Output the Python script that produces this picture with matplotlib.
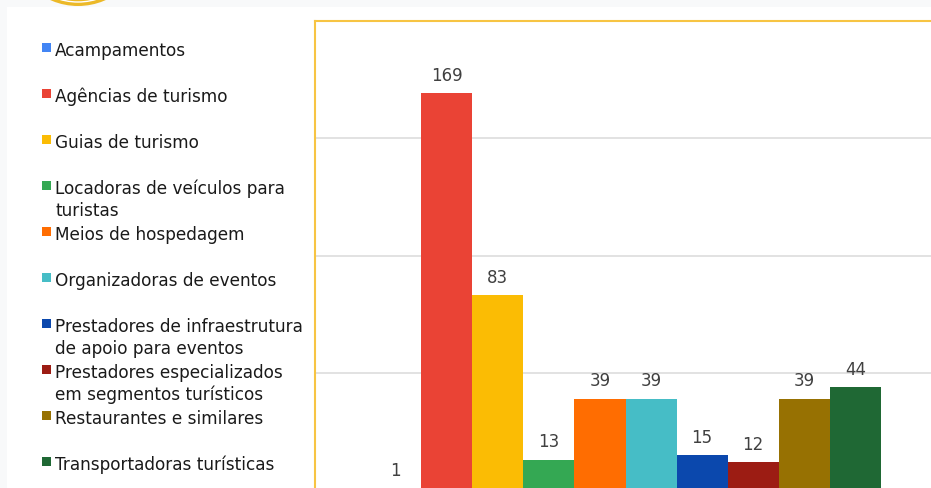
import matplotlib.pyplot as plt
from matplotlib.patches import Circle, Rectangle

categories = [
    "Acampamentos",
    "Agências de turismo",
    "Guias de turismo",
    "Locadoras de veículos para\nturistas",
    "Meios de hospedagem",
    "Organizadoras de eventos",
    "Prestadores de infraestrutura\nde apoio para eventos",
    "Prestadores especializados\nem segmentos turísticos",
    "Restaurantes e similares",
    "Transportadoras turísticas",
]
values = [1, 169, 83, 13, 39, 39, 15, 12, 39, 44]
colors = ["#4285f4", "#ea4335", "#fbbc04", "#34a853", "#ff6d01",
          "#46bdc6", "#0b48ad", "#9c1c13", "#977102", "#1f6834"]

W, H = 931, 489
plt.rcParams["font.family"] = ["DejaVu Sans"]


def fx(x):
    return x / W


def fy(y):
    # y measured from the top in pixels
    return 1 - y / H


fig = plt.figure(figsize=(W / 100, H / 100), dpi=100, facecolor="white")

# page background strips and the cut-off logo at the top
fig.patches.append(Rectangle((0, fy(8)), 1, 8 / H, transform=fig.transFigure,
                             facecolor="#f8f9fa", edgecolor="none", zorder=-3))
fig.patches.append(Rectangle((0, 0), fx(7), 1, transform=fig.transFigure,
                             facecolor="#f8f9fa", edgecolor="none", zorder=-3))
fig.patches.append(Circle((78, H + 61), 68, transform=None, facecolor="#ecb928",
                          edgecolor="none", zorder=-2))
fig.patches.append(Circle((78, H + 61), 64, transform=None, facecolor="none",
                          edgecolor="white", linewidth=1.0, zorder=-2))
fig.patches.append(Rectangle((fx(7), 0), 1, fy(8), transform=fig.transFigure,
                             facecolor="white", edgecolor="none", zorder=-1))

# plot area
left_px, top_px, bottom_px = 314.5, 21.5, 491.5
unit = 51.1
pad = (370 - left_px) / unit
n = len(values)
width_px = (n + 2 * pad) * unit
ax = fig.add_axes([fx(left_px), fy(bottom_px), width_px / W, (bottom_px - top_px) / H])
ax.set_facecolor("white")

x = list(range(n))
ax.bar(x, values, width=1.0, color=colors, zorder=2)
for xi, v in zip(x, values):
    ax.annotate(str(v), (xi, v), xytext=(0, 9.7), textcoords="offset points",
                ha="center", va="baseline", fontsize=12, color="#404040")

ax.set_xlim(-0.5 - pad, n - 0.5 + pad)
ax.set_ylim(0, 200)
ax.set_yticks([50, 100, 150])
ax.grid(axis="y", color="#dadada", linewidth=1.1, zorder=0)
ax.tick_params(left=False, bottom=False, labelleft=False, labelbottom=False)
ax.set_xticks([])
for spine in ax.spines.values():
    spine.set_color("#f7c443")
    spine.set_linewidth(1.5)

# legend drawn by hand, Google Charts style
for i, (label, color) in enumerate(zip(categories, colors)):
    base = 56 + 46 * i
    fig.patches.append(Rectangle((fx(42), fy(base - 3)), 9 / W, 9 / H,
                                 transform=fig.transFigure, facecolor=color,
                                 edgecolor="none"))
    for j, line in enumerate(label.split("\n")):
        fig.text(fx(55), fy(base + 22 * j), line, fontsize=12.2, color="#1a1a1a",
                 ha="left", va="baseline")

fig.savefig("out.png", dpi=100, facecolor=fig.get_facecolor())
